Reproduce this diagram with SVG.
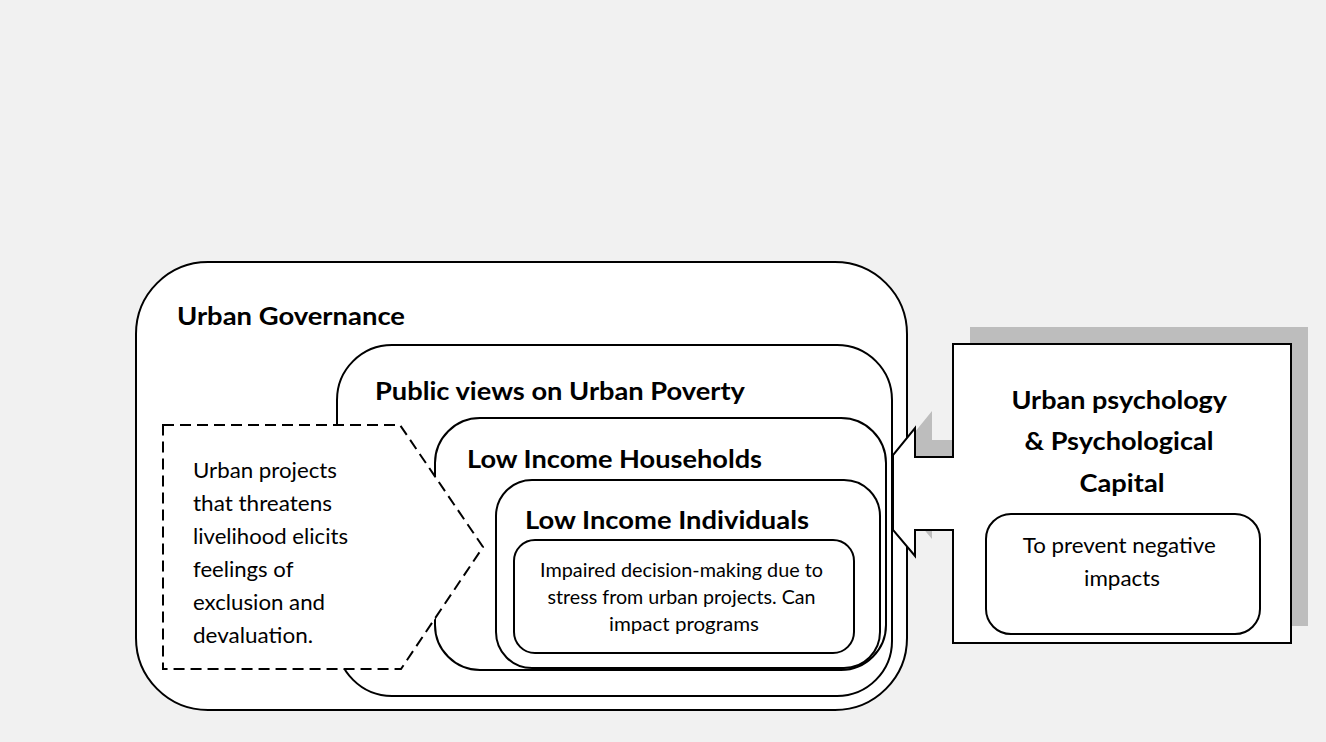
<svg xmlns="http://www.w3.org/2000/svg" width="1326" height="742" viewBox="0 0 1326 742">
  <style>
    .box { fill: #ffffff; stroke: #000000; stroke-width: 2; }
    .dash { fill: #ffffff; stroke: #000000; stroke-width: 2; stroke-dasharray: 11 6; }
    .title { font-family: Lato, "Liberation Sans", sans-serif; font-weight: bold; font-size: 25px; fill: #000000; }
    .body { font-family: Lato, "Liberation Sans", sans-serif; font-size: 21.5px; fill: #000000; }
    .small { font-family: Lato, "Liberation Sans", sans-serif; font-size: 19px; fill: #000000; }
    .shadow { fill: #bdbdbd; }
  </style>

  <rect x="0" y="0" width="1326" height="742" fill="#f1f1f1"/>

  <!-- nested levels -->
  <g id="urban-governance">
    <rect class="box" x="136" y="262" width="771" height="448" rx="72" ry="72"/>
    <text class="title" x="177" y="325" textLength="228" lengthAdjust="spacingAndGlyphs">Urban Governance</text>
  </g>

  <g id="public-views">
    <rect class="box" x="337" y="345" width="555" height="351" rx="55" ry="55"/>
    <text class="title" x="375" y="400" textLength="370" lengthAdjust="spacingAndGlyphs">Public views on Urban Poverty</text>
  </g>

  <g id="low-income-households">
    <rect class="box" x="435" y="418" width="451" height="252" rx="45" ry="45"/>
    <text class="title" x="467" y="468" textLength="295" lengthAdjust="spacingAndGlyphs">Low Income Households</text>
  </g>

  <g id="low-income-individuals">
    <rect class="box" x="496" y="480" width="384" height="188" rx="36" ry="36"/>
    <text class="title" x="525" y="529" textLength="284" lengthAdjust="spacingAndGlyphs">Low Income Individuals</text>
  </g>

  <g id="impaired-decision">
    <rect class="box" x="514" y="540" width="340" height="113" rx="21" ry="21"/>
    <text class="small" text-anchor="middle">
      <tspan x="684" y="577" textLength="283" lengthAdjust="spacingAndGlyphs">Impaired decision-making due to</tspan>
      <tspan x="684" y="604" textLength="268" lengthAdjust="spacingAndGlyphs">stress from urban projects. Can</tspan>
      <tspan x="684" y="631" textLength="150" lengthAdjust="spacingAndGlyphs">impact programs</tspan>
    </text>
  </g>

  <!-- dashed pentagon callout on the left -->
  <g id="urban-projects">
    <path class="dash" d="M163,425 H400 L483,547 L401,669 H163 Z"/>
    <text class="body">
      <tspan x="193" y="478" textLength="144" lengthAdjust="spacingAndGlyphs">Urban projects</tspan>
      <tspan x="193" y="511" textLength="139" lengthAdjust="spacingAndGlyphs">that threatens</tspan>
      <tspan x="193" y="544" textLength="155" lengthAdjust="spacingAndGlyphs">livelihood elicits</tspan>
      <tspan x="193" y="577" textLength="100" lengthAdjust="spacingAndGlyphs">feelings of</tspan>
      <tspan x="193" y="610" textLength="132" lengthAdjust="spacingAndGlyphs">exclusion and</tspan>
      <tspan x="193" y="643" textLength="120" lengthAdjust="spacingAndGlyphs">devaluation.</tspan>
    </text>
  </g>

  <!-- left-arrow callout with drop shadow -->
  <g id="connectors">
    <path class="shadow" transform="translate(17,-17)" d="M953,344 H1291 V643 H953 V530 H915 V556 L893,530 V455 L915,428 V457 H953 Z"/>
    <path class="box" d="M953,344 H1291 V643 H953 V530 H915 V556 L893,530 V455 L915,428 V457 H953 Z"/>
  </g>

  <g id="urban-psychology">
    <text class="title" text-anchor="middle">
      <tspan x="1122" y="409" textLength="215" lengthAdjust="spacingAndGlyphs">Urban psychology</tspan>
      <tspan x="1122" y="450" textLength="189" lengthAdjust="spacingAndGlyphs">&amp; Psychological</tspan>
      <tspan x="1122" y="492" textLength="85" lengthAdjust="spacingAndGlyphs">Capital</tspan>
    </text>
  </g>

  <g id="prevent-impacts">
    <rect class="box" x="986" y="514" width="274" height="120" rx="25" ry="25"/>
    <text class="body" text-anchor="middle">
      <tspan x="1122" y="553" textLength="193" lengthAdjust="spacingAndGlyphs">To prevent negative</tspan>
      <tspan x="1122" y="586" textLength="76" lengthAdjust="spacingAndGlyphs">impacts</tspan>
    </text>
  </g>
</svg>
